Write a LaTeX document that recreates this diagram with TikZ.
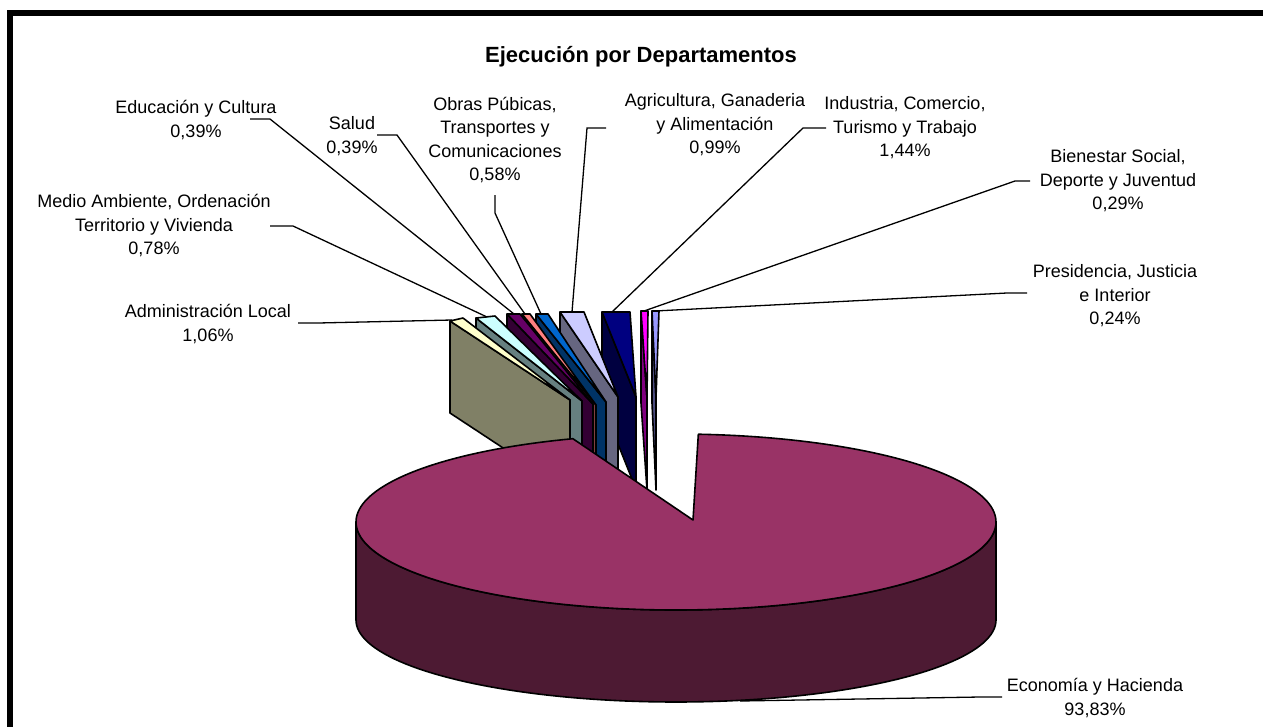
\documentclass[tikz,border=0pt]{standalone}
\usepackage{fontspec}
\setmainfont{Liberation Sans}
\usetikzlibrary{calc}
\definecolor{ecotop}{HTML}{993366}
\definecolor{ecoside}{HTML}{4D1A33}
\newcommand\pieslice[5]{%
  \filldraw[edge, fill=#4] #1 -- #3 -- ++(0,92) -- ($#1+(0,92)$) -- cycle;
  \filldraw[edge, fill=#5] #1 -- #2 -- #3 -- cycle;
}
\begin{document}
\begin{tikzpicture}[x=1pt,y=-1pt,
  lbl/.style={font=\fontsize{18}{23.5}\selectfont, align=center, inner sep=0pt},
  ttl/.style={font=\bfseries\fontsize{22}{26}\selectfont, inner sep=0pt},
  leader/.style={line width=1.3pt, draw=black},
  edge/.style={draw=black, line width=1.6pt, line join=round},
]
\useasboundingbox (0,0) rectangle (1263,726);
\clip (0,0) rectangle (1263,726);
\fill[white] (0,0) rectangle (1263,726);
\draw[line width=6pt] (10,13) rectangle (1300,800);

% exploded small slices (back), right to left
\filldraw[edge, fill={rgb,255:red,77;green,77;blue,128}] (652,311) -- (656,398) -- (656,490) -- (652,403) -- cycle;
\filldraw[edge, fill={rgb,255:red,153;green,153;blue,255}] (652,311) -- (659,311) -- (656,398) -- cycle;
\filldraw[edge, fill={rgb,255:red,128;green,0;blue,128}] (641,311) -- (647,398) -- (647,490) -- (641,403) -- cycle;
\filldraw[edge, fill={rgb,255:red,255;green,0;blue,255}] (641,311) -- (648,311) -- (647,398) -- cycle;
\pieslice{(602,312)}{(630,312)}{(636,397)}{{rgb,255:red,0;green,0;blue,64}}{{rgb,255:red,0;green,0;blue,128}}
\pieslice{(560,312)}{(584,312)}{(618,397)}{{rgb,255:red,102;green,102;blue,128}}{{rgb,255:red,204;green,204;blue,255}}
\pieslice{(536,314)}{(548,314)}{(606,402)}{{rgb,255:red,0;green,51;blue,102}}{{rgb,255:red,0;green,102;blue,204}}
\pieslice{(522,314)}{(530,314)}{(596,405)}{{rgb,255:red,128;green,64;blue,64}}{{rgb,255:red,255;green,128;blue,128}}
\pieslice{(507,314)}{(520,314)}{(593,404)}{{rgb,255:red,51;green,0;blue,51}}{{rgb,255:red,102;green,0;blue,102}}
\pieslice{(476,318)}{(495,316)}{(582,401)}{{rgb,255:red,102;green,128;blue,128}}{{rgb,255:red,204;green,255;blue,255}}
\pieslice{(450,321)}{(463,318)}{(570,400)}{{rgb,255:red,128;green,128;blue,102}}{{rgb,255:red,255;green,255;blue,204}}

% main slice: Economía y Hacienda
\filldraw[edge, fill=ecoside] plot[domain=180:360, samples=90] ({676+320*cos(\x)},{620-82*sin(\x)})
  -- plot[domain=360:180, samples=90] ({676+320*cos(\x)},{522-88*sin(\x)}) -- cycle;
\filldraw[edge, fill=ecotop] (693,520) -- plot[domain=108.8:446, samples=200] ({676+320*cos(\x)},{522-88*sin(\x)}) -- cycle;

% title
\node[ttl] (title) at (641,57) {Ejecución por Departamentos};

% labels
\node[lbl] (edu) at (196,120) {Educación y Cultura\\0,39\%};
\node[lbl] (sal) at (352,136) {Salud\\0,39\%};
\node[lbl] (obr) at (495,140) {Obras Púbicas,\\Transportes y\\Comunicaciones\\0,58\%};
\node[lbl] (agr) at (715,125) {Agricultura, Ganaderia\\y Alimentación\\0,99\%};
\node[lbl] (ind) at (905,128) {Industria, Comercio,\\Turismo y Trabajo\\1,44\%};
\node[lbl] (bie) at (1118,181) {Bienestar Social,\\Deporte y Juventud\\0,29\%};
\node[lbl] (med) at (154,226) {Medio Ambiente, Ordenación\\Territorio y Vivienda\\0,78\%};
\node[lbl] (pre) at (1115,296) {Presidencia, Justicia\\e Interior\\0,24\%};
\node[lbl] (adm) at (208,324) {Administración Local\\1,06\%};
\node[lbl] (eco) at (1095,698) {Economía y Hacienda\\93,83\%};

% leader lines
\draw[leader] (298,323) -- (318,323) -- (452,320);
\draw[leader] (270,226) -- (293,226) -- (487,317);
\draw[leader] (250,119) -- (270,119) -- (514,314);
\draw[leader] (377,135) -- (397,135) -- (525,314);
\draw[leader] (495,195) -- (495,213) -- (541,314);
\draw[leader] (606,128) -- (587,128) -- (572,312);
\draw[leader] (826,128) -- (803,128) -- (612,312);
\draw[leader] (1030,181) -- (1015,181) -- (644,311);
\draw[leader] (1027,293) -- (1007,293) -- (655,311);
\draw[leader] (1002,697) -- (980,697) -- (740,701);
\end{tikzpicture}
\end{document}
